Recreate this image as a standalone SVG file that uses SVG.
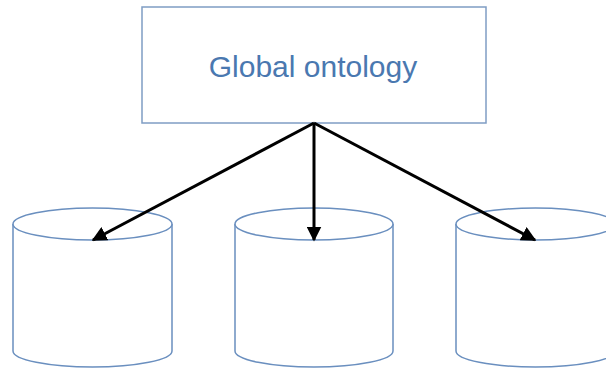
<svg xmlns="http://www.w3.org/2000/svg" width="606" height="368" viewBox="0 0 606 368">
  <style>
    .box { fill: #ffffff; stroke: #7f9dc4; stroke-width: 1.5; }
    .db { fill: #ffffff; stroke: #6a8fbf; stroke-width: 1.5; }
    .label { font-family: "Liberation Sans", Arial, sans-serif; font-size: 30px; fill: #4a78b0; }
    .edge { stroke: #000000; stroke-width: 3; fill: none; marker-end: url(#head); }
  </style>
  <defs>
    <marker id="head" markerWidth="5" markerHeight="5" refX="4.5" refY="2.5" orient="auto" markerUnits="strokeWidth">
      <path d="M0,0 L5,2.5 L0,5 Z" fill="#000000"/>
    </marker>
  </defs>
  <rect width="606" height="368" fill="#ffffff"/>

  <g id="global-ontology">
    <rect class="box" x="142" y="7" width="344" height="116"/>
    <text class="label" x="313" y="77" text-anchor="middle">Global ontology</text>
  </g>

  <g id="source-left">
    <path class="db" d="M13,224 L13,351 A79.5,16 0 0 0 172,351 L172,224"/>
    <ellipse class="db" cx="92.5" cy="224" rx="79.5" ry="16"/>
  </g>

  <g id="source-middle">
    <path class="db" d="M235,224 L235,351 A79,16 0 0 0 393,351 L393,224"/>
    <ellipse class="db" cx="314" cy="224" rx="79" ry="16"/>
  </g>

  <g id="source-right">
    <path class="db" d="M456,224 L456,351 A79.5,16 0 0 0 615,351 L615,224"/>
    <ellipse class="db" cx="535.5" cy="224" rx="79.5" ry="16"/>
  </g>

  <g id="connectors">
    <line class="edge" x1="314" y1="123" x2="93" y2="240"/>
    <line class="edge" x1="314" y1="123" x2="314" y2="240"/>
    <line class="edge" x1="314" y1="123" x2="535" y2="240"/>
  </g>
</svg>
